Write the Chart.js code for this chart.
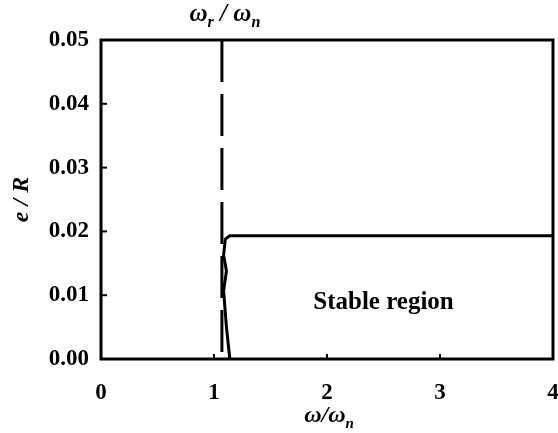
<!DOCTYPE html>
<html>
<head>
<meta charset="utf-8">
<script src="https://cdn.jsdelivr.net/npm/chart.js@4/dist/chart.umd.min.js"></script>
<style>
  html, body { margin: 0; padding: 0; background: #fff; }
</style>
</head>
<body>
<canvas id="chart" width="558" height="433"></canvas>
<script>
// stability boundary
const boundaryX = [1.14, 1.11, 1.085, 1.11, 1.085, 1.10, 1.14, 4.0];
const boundaryY = [0.000, 0.005, 0.0107, 0.0138, 0.0163, 0.0188, 0.0193, 0.0193];

// resonance ratio marker (drawn top to bottom so the dashes start at the top)
const resonanceX = [1.07, 1.07];
const resonanceY = [0.05, 0.0];

const xTicks = [0, 1, 2, 3, 4];
const yTicks = [0.00, 0.01, 0.02, 0.03, 0.04, 0.05];

const regionLabel = 'Stable region';
const regionAt = [2.5, 0.0088];

const SERIF = '"Liberation Serif", "Times New Roman", serif';

function toPoints(xs, ys) {
    return xs.map((x, i) => ({ x: x, y: ys[i] }));
}

// draws text pieces, sub parts are lowered and smaller
function drawSubText(ctx, parts, cx, cy, size) {
    const big = 'italic bold ' + size + 'px ' + SERIF;
    const small = 'italic bold ' + Math.round(size * 0.62) + 'px ' + SERIF;
    let total = 0;
    parts.forEach(p => {
        ctx.font = p.sub ? small : big;
        total += ctx.measureText(p.t).width;
    });
    let x = cx - total / 2;
    ctx.textBaseline = 'middle';
    ctx.textAlign = 'left';
    parts.forEach(p => {
        ctx.font = p.sub ? small : big;
        ctx.fillText(p.t, x, p.sub ? cy + size * 0.32 : cy);
        x += ctx.measureText(p.t).width;
    });
}

const decorations = {
    id: 'decorations',
    afterDraw(chart) {
        const ctx = chart.ctx;
        const a = chart.chartArea;
        const xs = chart.scales.x;
        const ys = chart.scales.y;
        ctx.save();
        ctx.strokeStyle = '#000';
        ctx.fillStyle = '#000';

        // frame
        ctx.lineWidth = 3;
        ctx.strokeRect(a.left, a.top, a.right - a.left, a.bottom - a.top);

        // inward ticks
        ctx.lineWidth = 2;
        xTicks.forEach(v => {
            const px = xs.getPixelForValue(v);
            ctx.beginPath();
            ctx.moveTo(px, a.bottom);
            ctx.lineTo(px, a.bottom - 5);
            ctx.stroke();
        });
        yTicks.forEach(v => {
            const py = ys.getPixelForValue(v);
            ctx.beginPath();
            ctx.moveTo(a.left, py);
            ctx.lineTo(a.left + 6, py);
            ctx.stroke();
        });

        // region label
        ctx.font = 'bold 25px ' + SERIF;
        ctx.textAlign = 'center';
        ctx.textBaseline = 'middle';
        ctx.fillText(regionLabel, xs.getPixelForValue(regionAt[0]), ys.getPixelForValue(regionAt[1]));

        // top marker label
        drawSubText(ctx, [
            { t: 'ω' }, { t: 'r', sub: true }, { t: ' / ω' }, { t: 'n', sub: true }
        ], xs.getPixelForValue(resonanceX[0]) + 3, 15, 25);

        // x title
        drawSubText(ctx, [
            { t: 'ω/ω' }, { t: 'n', sub: true }
        ], (a.left + a.right) / 2 + 2, 416, 24);

        // y title
        ctx.translate(22, (a.top + a.bottom) / 2);
        ctx.rotate(-Math.PI / 2);
        ctx.font = 'italic bold 24px ' + SERIF;
        ctx.textAlign = 'center';
        ctx.textBaseline = 'middle';
        ctx.fillText('e / R', 0, 0);
        ctx.restore();
    }
};

new Chart(document.getElementById('chart').getContext('2d'), {
    type: 'scatter',
    data: {
        datasets: [
            {
                data: toPoints(boundaryX, boundaryY),
                showLine: true,
                borderColor: '#000',
                borderWidth: 3,
                pointRadius: 0,
                tension: 0
            },
            {
                data: toPoints(resonanceX, resonanceY),
                showLine: true,
                borderColor: '#000',
                borderWidth: 3,
                borderDash: [42, 12],
                pointRadius: 0
            }
        ]
    },
    options: {
        responsive: false,
        animation: false,
        layout: { padding: { top: 40, right: 5, left: 0, bottom: 0 } },
        plugins: {
            legend: { display: false },
            tooltip: { enabled: false }
        },
        scales: {
            x: {
                type: 'linear',
                min: 0,
                max: 4,
                afterFit: s => {
                    s.height = 74;
                    s.paddingLeft = 0;
                    s.paddingRight = 0;
                },
                afterBuildTicks: s => { s.ticks = xTicks.map(v => ({ value: v })); },
                grid: { display: false, drawTicks: false },
                border: { display: false },
                ticks: {
                    padding: 20,
                    color: '#000',
                    font: { family: SERIF, size: 23, weight: 'bold' },
                    callback: v => String(v)
                }
            },
            y: {
                type: 'linear',
                min: 0,
                max: 0.05,
                afterFit: s => { s.width = 101; },
                afterBuildTicks: s => { s.ticks = yTicks.map(v => ({ value: v })); },
                grid: { display: false, drawTicks: false },
                border: { display: false },
                ticks: {
                    padding: 12,
                    color: '#000',
                    font: { family: SERIF, size: 23, weight: 'bold' },
                    callback: v => v.toFixed(2)
                }
            }
        }
    },
    plugins: [decorations]
});
</script>
</body>
</html>
